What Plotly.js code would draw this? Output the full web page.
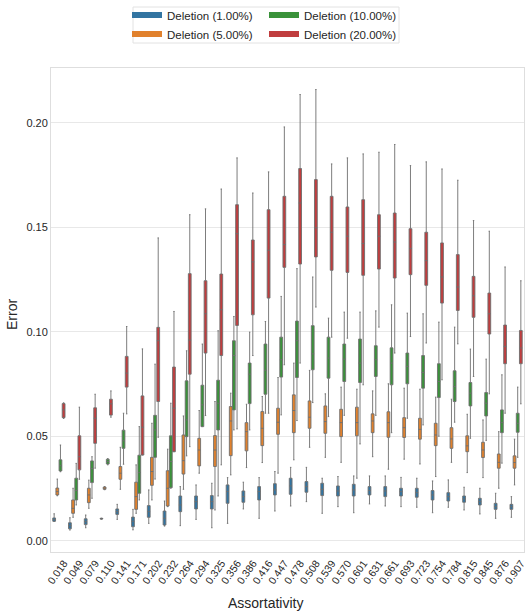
<!DOCTYPE html>
<html>
<head>
<meta charset="utf-8">
<script src="https://cdn.plot.ly/plotly-3.0.1.min.js"></script>
<style>html,body{margin:0;padding:0;background:#fff}#chart{width:526px;height:615px}</style>
</head>
<body>
<div id="chart"></div>
<script>
const categories = ['0.018','0.049','0.079','0.110','0.141','0.171','0.202','0.232','0.264','0.294',
  '0.325','0.356','0.386','0.416','0.447','0.478','0.508','0.539','0.570','0.601',
  '0.631','0.661','0.693','0.723','0.754','0.784','0.815','0.845','0.876','0.907'];
const seriesNames = ['Deletion (1.00%)','Deletion (5.00%)','Deletion (10.00%)','Deletion (20.00%)'];
const seriesColors = ['#3274a1','#e1812c','#3a923a','#c03d3e'];
const yTicks = [0, 0.05, 0.10, 0.15, 0.20];

// Deletion 1.00%
const d1Low = [0.0092,0.0051,0.0062,0.0103,0.0102,0.0052,0.0083,0.0070,0.0072,0.0102,0.0062,0.0083,0.0152,0.0107,0.0142,0.0166,0.0187,0.0131,0.0163,0.0134,0.0176,0.0166,0.0163,0.0160,0.0134,0.0160,0.0147,0.0128,0.0107,0.0112];
const d1Q1  = [0.0093,0.0057,0.0077,0.0104,0.0126,0.0067,0.0112,0.0075,0.0139,0.0152,0.0152,0.0179,0.0184,0.0195,0.0219,0.0222,0.0232,0.0216,0.0214,0.0214,0.0219,0.0211,0.0214,0.0208,0.0195,0.0190,0.0184,0.0171,0.0150,0.0150];
const d1Med = [0.0101,0.0072,0.0091,0.0105,0.0139,0.0093,0.0139,0.0107,0.0171,0.0187,0.0187,0.0235,0.0211,0.0235,0.0243,0.0262,0.0259,0.0246,0.0238,0.0243,0.0240,0.0238,0.0235,0.0230,0.0219,0.0211,0.0200,0.0187,0.0163,0.0163];
const d1Q3  = [0.0109,0.0086,0.0105,0.0107,0.0152,0.0113,0.0168,0.0142,0.0214,0.0214,0.0216,0.0267,0.0238,0.0259,0.0273,0.0299,0.0283,0.0275,0.0262,0.0270,0.0259,0.0259,0.0251,0.0251,0.0240,0.0230,0.0214,0.0203,0.0179,0.0174];
const d1High= [0.0129,0.0110,0.0123,0.0108,0.0174,0.0150,0.0243,0.0190,0.0259,0.0267,0.0275,0.0302,0.0280,0.0302,0.0331,0.0351,0.0351,0.0299,0.0307,0.0310,0.0310,0.0310,0.0303,0.0299,0.0286,0.0291,0.0256,0.0251,0.0227,0.0211];

// Deletion 5.00%
const d5Low = [0.0215,0.0112,0.0155,0.0244,0.0246,0.0131,0.0195,0.0163,0.0246,0.0323,0.0147,0.0315,0.0350,0.0374,0.0323,0.0387,0.0447,0.0399,0.0375,0.0299,0.0402,0.0342,0.0390,0.0367,0.0307,0.0375,0.0326,0.0302,0.0251,0.0267];
const d5Q1  = [0.0219,0.0131,0.0182,0.0246,0.0294,0.0150,0.0265,0.0166,0.0319,0.0358,0.0355,0.0407,0.0430,0.0455,0.0509,0.0517,0.0538,0.0514,0.0498,0.0502,0.0517,0.0495,0.0494,0.0486,0.0455,0.0442,0.0426,0.0398,0.0347,0.0347];
const d5Med = [0.0235,0.0155,0.0219,0.0251,0.0323,0.0211,0.0331,0.0251,0.0383,0.0434,0.0434,0.0573,0.0522,0.0538,0.0567,0.0623,0.0591,0.0570,0.0565,0.0565,0.0573,0.0565,0.0541,0.0533,0.0506,0.0487,0.0454,0.0434,0.0375,0.0374];
const d5Q3  = [0.0252,0.0195,0.0251,0.0257,0.0355,0.0280,0.0399,0.0335,0.0506,0.0490,0.0503,0.0642,0.0565,0.0618,0.0634,0.0698,0.0669,0.0645,0.0629,0.0639,0.0607,0.0617,0.0589,0.0586,0.0562,0.0541,0.0502,0.0471,0.0415,0.0406];
const d5High= [0.0295,0.0251,0.0290,0.0259,0.0447,0.0363,0.0562,0.0438,0.0597,0.0623,0.0666,0.0706,0.0653,0.0690,0.0781,0.0850,0.0815,0.0703,0.0735,0.0725,0.0717,0.0751,0.0730,0.0725,0.0687,0.0677,0.0605,0.0578,0.0522,0.0486];

// Deletion 10.00%
const d10Low = [0.0330,0.0171,0.0203,0.0363,0.0366,0.0195,0.0295,0.0251,0.0406,0.0546,0.0214,0.0530,0.0530,0.0610,0.0602,0.0575,0.0661,0.0594,0.0600,0.0463,0.0600,0.0517,0.0586,0.0554,0.0500,0.0567,0.0490,0.0480,0.0371,0.0399];
const d10Q1  = [0.0334,0.0195,0.0278,0.0367,0.0442,0.0227,0.0399,0.0254,0.0498,0.0546,0.0530,0.0626,0.0656,0.0701,0.0783,0.0781,0.0818,0.0778,0.0762,0.0757,0.0786,0.0746,0.0751,0.0730,0.0685,0.0666,0.0645,0.0597,0.0517,0.0519];
const d10Med = [0.0359,0.0240,0.0345,0.0379,0.0478,0.0326,0.0530,0.0379,0.0578,0.0650,0.0658,0.0886,0.0797,0.0816,0.0866,0.0957,0.0894,0.0874,0.0869,0.0850,0.0866,0.0850,0.0834,0.0805,0.0762,0.0738,0.0706,0.0658,0.0565,0.0562];
const d10Q3  = [0.0387,0.0299,0.0382,0.0390,0.0529,0.0409,0.0600,0.0502,0.0765,0.0744,0.0768,0.0957,0.0850,0.0941,0.0974,0.1051,0.1029,0.0974,0.0941,0.0965,0.0933,0.0923,0.0898,0.0886,0.0847,0.0813,0.0757,0.0709,0.0626,0.0610];
const d10High= [0.0458,0.0370,0.0402,0.0393,0.0610,0.0546,0.0845,0.0658,0.0909,0.0941,0.1005,0.1073,0.0998,0.1049,0.1169,0.1302,0.1262,0.1065,0.1094,0.1094,0.1100,0.1129,0.1089,0.1086,0.1046,0.1022,0.0917,0.0869,0.0794,0.0735];

// Deletion 20.00%
const d20Low = [0.0585,0.0294,0.0347,0.0591,0.0607,0.0410,0.0495,0.0426,0.0450,0.0599,0.0363,0.0535,0.0886,0.0610,0.0842,0.0850,0.1118,0.0974,0.0969,0.0746,0.1022,0.0898,0.0977,0.0946,0.0770,0.0942,0.0786,0.0703,0.0610,0.0655];
const d20Q1  = [0.0589,0.0339,0.0466,0.0601,0.0735,0.0410,0.0666,0.0426,0.0797,0.0898,0.0886,0.1030,0.1081,0.1161,0.1308,0.1324,0.1358,0.1294,0.1284,0.1270,0.1300,0.1257,0.1273,0.1222,0.1137,0.1102,0.1069,0.0989,0.0847,0.0847];
const d20Med = [0.0626,0.0402,0.0586,0.0655,0.0802,0.0543,0.0957,0.0634,0.0960,0.1086,0.1105,0.1469,0.1334,0.1390,0.1417,0.1616,0.1497,0.1476,0.1457,0.1422,0.1457,0.1429,0.1398,0.1340,0.1262,0.1214,0.1172,0.1086,0.0930,0.0922];
const d20Q3  = [0.0656,0.0502,0.0636,0.0677,0.0882,0.0693,0.1021,0.0831,0.1278,0.1244,0.1276,0.1608,0.1439,0.1584,0.1648,0.1781,0.1728,0.1648,0.1597,0.1632,0.1560,0.1568,0.1493,0.1476,0.1425,0.1369,0.1265,0.1185,0.1032,0.1006];
const d20High= [0.0660,0.0639,0.0701,0.0717,0.1025,0.0918,0.1449,0.1097,0.1560,0.1588,0.1683,0.1832,0.1664,0.1765,0.1980,0.2135,0.2159,0.1803,0.1832,0.1851,0.1859,0.1896,0.1795,0.1813,0.1779,0.1725,0.1532,0.1481,0.1310,0.1244];

const stats = [
  [d1Low, d1Q1, d1Med, d1Q3, d1High],
  [d5Low, d5Q1, d5Med, d5Q3, d5High],
  [d10Low, d10Q1, d10Med, d10Q3, d10High],
  [d20Low, d20Q1, d20Med, d20Q3, d20High]
];
const legendOf = ['legend', 'legend', 'legend2', 'legend2'];

const traces = [];
stats.forEach(function (s, i) {
  traces.push({
    type: 'box', name: seriesNames[i], x: categories,
    lowerfence: s[0], q1: s[1], median: s[2], q3: s[3], upperfence: s[4],
    boxpoints: false, fillcolor: seriesColors[i],
    line: {color: '#6e6e6e', width: 0.9}, whiskerwidth: 0.5,
    showlegend: false, hoverinfo: 'skip'
  });
});
// legend entries (patches)
stats.forEach(function (s, i) {
  traces.push({
    type: 'scatter', mode: 'lines', x: [null], y: [null], name: seriesNames[i],
    line: {color: seriesColors[i], width: 6}, legend: legendOf[i], showlegend: true, hoverinfo: 'skip'
  });
});

const legendCommon = {
  orientation: 'v', xref: 'container', yref: 'container', xanchor: 'left', yanchor: 'top',
  bgcolor: 'rgba(0,0,0,0)', borderwidth: 0, font: {size: 11.5, color: '#262626'}, tracegroupgap: 0
};

const layout = {
  width: 526, height: 615,
  margin: {l: 51, r: 2, t: 68, b: 63, autoexpand: false},
  paper_bgcolor: '#ffffff', plot_bgcolor: '#ffffff',
  font: {family: 'Liberation Sans, Arial, sans-serif', size: 11, color: '#262626'},
  boxmode: 'group', boxgap: 0.2, boxgroupgap: 0.12,
  showlegend: true,
  legend: Object.assign({x: 127 / 526, y: 0.999}, legendCommon),
  legend2: Object.assign({x: 264 / 526, y: 0.999}, legendCommon),
  xaxis: {
    type: 'category', categoryorder: 'array', categoryarray: categories,
    range: [-0.5, categories.length - 0.5],
    showgrid: false, zeroline: false, showline: true, mirror: true, linecolor: '#dedede', linewidth: 1,
    ticks: '', tickangle: -55, tickfont: {size: 10.5, color: '#262626'}, ticklabelshift: 5,
    automargin: false
  },
  yaxis: {
    range: [-0.0054, 0.2262], tickvals: yTicks, tickformat: '.2f',
    showgrid: true, gridcolor: '#e8e8e8', gridwidth: 1, zeroline: false,
    showline: true, mirror: true, linecolor: '#dedede', linewidth: 1,
    ticks: '', tickfont: {size: 11, color: '#262626'}, automargin: false
  },
  shapes: [{
    type: 'rect', xref: 'paper', yref: 'paper',
    x0: (133 - 51) / 473, x1: (399 - 51) / 473, y0: (552 - 43) / 484, y1: (552 - 7) / 484,
    line: {color: '#e2e2e2', width: 1}, fillcolor: '#ffffff', layer: 'below'
  }],
  annotations: [{
    text: 'Assortativity', xref: 'paper', yref: 'paper',
    x: (265.5 - 51) / 473, y: (552 - 603) / 484, xanchor: 'center', yanchor: 'middle',
    showarrow: false, font: {size: 14, color: '#262626'}
  }, {
    text: 'Error', xref: 'paper', yref: 'paper', textangle: -90,
    x: (12 - 51) / 473, y: (552 - 315) / 484, xanchor: 'center', yanchor: 'middle',
    showarrow: false, font: {size: 14, color: '#262626'}
  }]
};

Plotly.newPlot('chart', traces, layout, {displayModeBar: false, staticPlot: true});
</script>
</body>
</html>
